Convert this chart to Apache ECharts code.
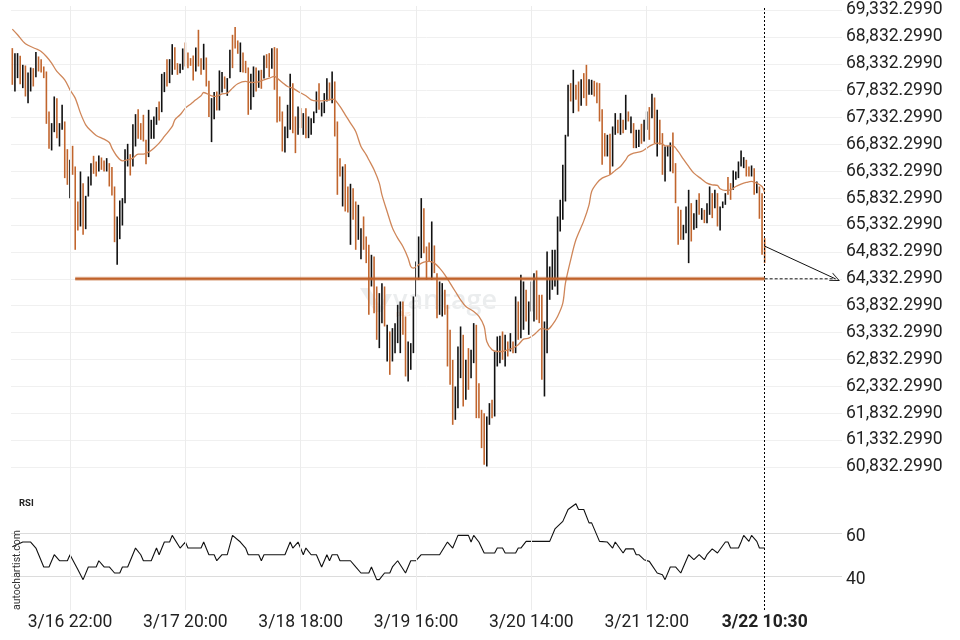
<!DOCTYPE html>
<html><head><meta charset="utf-8">
<script src="https://cdn.jsdelivr.net/npm/echarts@6/dist/echarts.min.js"></script>
<style>html,body{margin:0;padding:0;background:#fff}#c{width:960px;height:640px}</style>
</head><body><div id="c"></div>
<script>
// ---- data (30-minute bars, 3/16 11:00 .. 3/22 10:30) ----
const highs = [
68623,68530,68530,68480,68313,68300,68170,68263,68251,68549,
68468,68418,68282,68189,67445,67228,67724,67693,67228,67569,
67259,66744,66546,66806,66422,65771,66329,66112,65876,66236,
66484,66620,66515,66626,66589,66534,66577,66484,66410,66050,
65492,65789,65833,66744,66843,66651,67209,67395,67488,67228,
67383,66918,67476,67290,67352,67526,67631,68145,68177,68418,
68418,68697,68641,68344,68331,68617,68728,68542,68437,68486,
68635,68964,68437,68704,68449,68015,67693,67805,67817,68208,
68177,68096,68065,68592,68871,69014,68766,68728,68542,68387,
68263,68146,68282,68263,68208,68220,68487,68511,68530,68623,
68642,68623,67724,67445,67166,67569,68146,67972,67352,67538,
67507,67414,67507,67352,67321,67445,67817,67972,67612,67786,
68065,67984,68189,68003,67259,66577,66422,66465,66050,66100,
66019,65771,65709,65275,65492,65120,64965,64779,64748,64190,
64066,64252,64190,63477,63353,63415,63508,63849,63911,63911,
63632,63167,63136,64004,64655,65120,65833,65647,64934,65008,
65399,64953,64438,64283,64252,64128,63849,63384,62826,62330,
63074,63446,63291,62826,63043,63012,63508,63477,62392,61896,
61834,61772,62020,62082,62981,63260,63272,63353,63291,63167,
63322,63167,64004,63911,64407,64283,64128,63911,64283,64438,
64488,64035,64035,63539,64841,64562,64872,64872,65492,65802,
66453,67011,67941,67972,68220,67941,68003,68046,68158,68313,
68046,68034,68015,67984,67972,67488,67042,67011,67030,67166,
67414,67290,67414,67290,67755,67445,67352,67228,67104,67104,
67216,67290,67445,67526,67774,67705,67476,67290,67042,66794,
66806,66868,67054,66484,65678,65616,65337,65678,65988,65740,
65554,65802,65926,65647,65616,65740,66050,65926,65988,65926,
65678,65771,65926,66224,66112,66348,66329,66515,66720,66596,
66546,66422,66441,66391,66143,66050,65926,65089];
const lows = [
67941,67817,68065,67953,67879,67724,67600,67817,67910,68083,
68189,68170,68065,67215,66750,66720,67060,66949,66794,67104,
66205,66081,65833,66267,64872,65231,65306,65151,65256,65863,
66068,66285,66236,66329,66360,66329,66329,66050,65882,65014,
64593,65070,65324,65740,66422,66254,66422,66794,66936,66918,
66887,66465,66596,66936,66936,67197,67278,67432,67805,67910,
67972,68127,68220,68127,68158,68220,68282,68251,68294,68021,
68189,68282,68127,68220,67910,67340,66875,67302,67464,67464,
67798,67867,67736,68065,68251,68617,68518,68177,68170,68158,
67383,67476,67712,67817,67885,67867,68059,68251,68084,68239,
67848,67240,67259,66701,66682,66949,67104,67042,66670,67011,
67135,67011,66949,66949,67011,67228,67414,67476,67352,67414,
67631,67650,67600,66980,65895,66236,65678,65585,65566,64965,
65430,64872,65058,64698,64872,64624,63663,64190,63694,63198,
63043,63508,63446,62795,62547,62795,62950,63136,62950,63291,
62516,62423,62640,62950,64004,64314,64717,64810,64314,64655,
64314,64438,63601,63663,63632,63663,62702,62361,61617,61710,
61927,62485,61958,62082,62268,62485,62764,61741,61741,61183,
60873,60842,61617,61741,61772,62702,62764,62826,62702,62888,
62981,62950,62950,63198,63229,63384,63539,63291,63725,63539,
63570,63508,62454,62144,62950,63942,64128,64190,64035,65213,
65430,65771,66980,67631,67414,67662,67445,67550,67693,67550,
67755,67755,67724,67600,67259,66453,66608,66608,66267,66422,
67011,67042,67011,67042,67104,67259,67042,66763,66763,66782,
66844,66887,67104,66918,67321,66856,66608,66825,66267,66143,
66608,66329,66298,65740,64965,65058,65058,65182,64624,65027,
65244,65275,65523,65430,65368,65368,65523,65461,65647,65306,
65232,65647,65709,65895,65802,65988,66174,66205,66422,66391,
66236,66236,66236,65895,65926,65449,64779,64624];
// U = up bar (black), D = down bar (orange)
const barDir = ('DUUDUDUUDU'+'DDDDDUUDUU'+'DDUDDDUDUU'+'UDDUDDUDDD'+'UUUUUDUUDD'+
  'DDUUUUDUUD'+'UUDDUUDDDD'+'UDDUDDUUDU'+'UDUUDDDUDD'+'DUUDUDUDDU'+
  'DDDDUUUDDU'+'DUDUUUUDUU'+'UDUDDDUDDU'+'DDUUDDDUDD'+'UUDUDUUUUD'+
  'DUUUUUUDDD'+'UDDUUDDDDU'+'UUDUDUUDDD'+'DUUDUUUDUD'+'UDUDUUDUUU'+
  'DDDUUUUUUU'+'UUUDUDDUDD'+'UUDDDDDUDU'+'UDUDUDUDUU'+'DUUDUDUDDU'+
  'UUDDDDUUUD'+'UUDUDUUDUD'+'UUUDDUUUUU'+'DDUDUDDD').split('');
// moving average, [bar index, value]
const maPoints = [[0,68976],[2,68871],[5,68704],[9,68611],[11,68561],[13,68468],[15,68344],[17,68189],[20,68034],[22,67848],[24,67693],[26,67414],[28,67197],[30,67085],[32,66999],[35,66930],[37,66868],[38,66763],[40,66608],[42,66527],[44,66546],[46,66577],[48,66651],[50,66651],[52,66689],[54,66763],[56,66856],[58,66980],[61,67166],[62,67290],[64,67383],[66,67507],[68,67581],[70,67662],[72,67736],[73,67798],[76,67736],[78,67724],[80,67774],[82,67786],[84,67879],[86,67960],[89,68003],[91,67984],[94,67997],[96,68034],[98,68065],[100,68096],[101,68065],[103,67984],[105,67910],[107,67879],[109,67817],[112,67736],[114,67662],[116,67643],[118,67643],[120,67650],[122,67674],[123,67662],[125,67538],[127,67383],[129,67228],[131,67073],[133,66794],[135,66639],[136,66546],[138,66360],[140,66112],[141,65895],[143,65580],[145,65280],[147,65089],[149,64934],[151,64717],[152,64562],[153,64531],[155,64593],[157,64643],[159,64655],[161,64624],[163,64531],[165,64407],[167,64252],[169,64097],[171,63942],[173,63818],[176,63725],[178,63632],[180,63446],[181,63167],[183,63012],[185,62981],[187,62981],[189,63012],[191,63043],[193,63105],[195,63210],[197,63229],[199,63291],[201,63384],[202,63415],[204,63384],[206,63477],[208,63632],[210,63880],[211,64252],[213,64686],[215,65058],[218,65410],[220,65709],[221,65957],[223,66112],[225,66205],[228,66267],[230,66348],[232,66422],[234,66546],[235,66620],[237,66670],[240,66701],[242,66763],[244,66825],[246,66856],[248,66844],[249,66806],[252,66806],[254,66701],[256,66558],[258,66422],[260,66298],[263,66186],[265,66112],[267,66081],[269,66069],[270,66007],[272,65976],[274,65988],[276,66050],[278,66093],[280,66124],[282,66143],[284,66112],[286,66050],[287,65938]];
// RSI, [bar index, value]
const rsiPoints = [[0,53.6],[4,55.8],[7,55.8],[9,53.0],[12,44.2],[14,44.2],[16,49.9],[18,47.1],[21,47.1],[22,49.9],[25,43.0],[27,38.3],[29,44.2],[32,44.2],[33,47.1],[35,44.2],[37,44.2],[39,41.4],[41,41.4],[42,44.2],[44,44.2],[45,47.1],[47,53.0],[49,49.9],[50,47.1],[53,47.1],[55,53.0],[56,49.9],[58,55.8],[60,55.8],[61,58.9],[64,53.0],[66,55.8],[67,53.0],[72,53.0],[73,55.8],[75,49.9],[77,49.9],[78,47.1],[80,49.9],[82,49.9],[84,58.9],[87,55.8],[89,53.0],[90,49.9],[94,49.9],[95,47.1],[96,49.9],[104,49.9],[106,55.8],[107,53.0],[109,55.8],[111,49.9],[112,53.0],[114,49.9],[116,49.9],[118,44.2],[120,49.9],[121,47.1],[122,49.9],[124,49.9],[125,47.1],[129,47.1],[131,44.2],[133,41.4],[136,41.4],[137,44.2],[139,38.3],[140,38.3],[142,41.4],[144,41.4],[145,44.2],[147,47.1],[150,41.4],[152,47.1],[154,47.1],[156,49.9],[163,49.9],[166,55.8],[168,53.0],[170,58.9],[174,58.9],[175,55.8],[176,58.9],[178,55.8],[180,50.7],[184,50.7],[185,53.0],[187,53.0],[188,50.7],[192,50.7],[193,53.0],[194,53.0],[196,56.1],[205,56.1],[207,61.9],[210,65.4],[212,70.9],[215,73.6],[216,70.9],[218,70.9],[220,64.7],[221,64.7],[224,56.1],[227,55.8],[229,53.0],[230,55.8],[233,50.7],[234,52.6],[237,52.6],[238,49.9],[239,49.9],[241,47.6],[243,46.8],[246,41.4],[248,40.6],[249,38.3],[251,44.2],[253,44.2],[255,41.4],[258,49.9],[260,47.6],[262,49.9],[264,47.6],[265,49.9],[267,52.6],[269,50.7],[272,55.8],[273,55.8],[274,53.0],[277,53.0],[278,55.8],[279,58.9],[281,56.1],[282,58.9],[284,56.1],[285,53.0],[287,53.0]];
const tickIndex = [22,66,110,154,198,242,287];
const tickLabels = ['3/16 22:00','3/17 20:00','3/18 18:00','3/19 16:00','3/20 14:00','3/21 12:00','3/22 10:30'];
const priceMin = 60832.299, priceMax = 69332.299, priceStep = 500;
const rsiLabels = [40, 60];
const targetLevel = 64332.299;
const levelStart = 24, lastBar = 287, projEnd = 314;
const arrowStartValue = 64940;
const slotCount = 317;

// categories: 30-minute slots
const categories = [];
const t0 = Date.UTC(2024, 2, 16, 11, 0);
for (let k = 0; k < slotCount; k++) {
  const d = new Date(t0 + k * 1800000);
  const hh = String(d.getUTCHours()).padStart(2, '0');
  const mm = String(d.getUTCMinutes()).padStart(2, '0');
  categories.push((d.getUTCMonth() + 1) + '/' + d.getUTCDate() + ' ' + hh + ':' + mm);
}
const barData = highs.map((h, i) => [i, h, lows[i], barDir[i] === 'U' ? 1 : 0]);

const FONT = 'Roboto';
const ORANGE = '#c1652d';
const chevron = 'path://M0,10L5,0L10,10L9,10L5,2L1,10Z';
const fmtPrice = v => {
  const k = Math.round((v - priceMin) / priceStep);
  return (priceMin + k * priceStep).toLocaleString('en-US', {minimumFractionDigits: 4, maximumFractionDigits: 4});
};

const chart = echarts.init(document.getElementById('c'));
chart.setOption({
  animation: false,
  backgroundColor: '#fff',
  grid: [
    {left: 11, right: 118, top: 10, height: 457},
    {left: 11, right: 118, top: 490, height: 129},
    {left: 11, right: 118, top: 6, bottom: 30}
  ],
  xAxis: [
    {gridIndex: 0, type: 'category', data: categories, show: false, boundaryGap: true},
    {gridIndex: 1, type: 'category', data: categories, show: false, boundaryGap: true},
    {gridIndex: 2, type: 'category', data: categories, boundaryGap: true,
      axisLine: {show: false}, axisTick: {show: false}, splitLine: {show: false},
      axisLabel: {
        interval: (idx) => tickIndex.includes(idx),
        margin: 4, color: '#222', fontSize: 17.5, fontFamily: FONT,
        formatter: (v, idx) => {
          const k = tickIndex.indexOf(idx);
          const s = k >= 0 ? tickLabels[k] : v;
          return idx === lastBar ? '{b|' + s + '}' : s;
        },
        rich: {b: {fontWeight: 'bold', fontSize: 17.5, fontFamily: FONT, color: '#222'}}
      }}
  ],
  yAxis: [
    {gridIndex: 0, type: 'value', position: 'right', min: priceMin, max: priceMax, interval: priceStep,
      axisLine: {show: false}, axisTick: {show: false},
      splitLine: {lineStyle: {color: '#f0f0f0', width: 1}},
      axisLabel: {margin: 4, color: '#222', fontSize: 17.5, fontFamily: FONT, formatter: fmtPrice}},
    {gridIndex: 1, type: 'value', position: 'right', min: 20, max: 80, interval: 20,
      axisLine: {show: false}, axisTick: {show: false},
      splitLine: {showMinLine: false, showMaxLine: false, lineStyle: {color: '#dcdcdc', width: 1}},
      axisLabel: {margin: 4, color: '#222', fontSize: 17.5, fontFamily: FONT, verticalAlign: 'top', lineHeight: 8,
        formatter: v => rsiLabels.includes(v) ? String(v) : ''}},
    {gridIndex: 2, type: 'value', min: 0, max: 1, show: false}
  ],
  graphic: [
    {type: 'text', left: 19, top: 499, z: 10, style: {text: 'RSI', font: 'bold 9.5px Roboto', fill: '#222'}},
    {type: 'text', x: 17, y: 570, rotation: Math.PI / 2, z: 10,
      style: {text: 'autochartist.com', font: '10.5px Roboto', fill: '#333', align: 'center', verticalAlign: 'middle'}},
    {type: 'group', z: 0, children: [
      {type: 'polygon', shape: {points: [[360,288],[369,288],[380,306],[386,294],[392,294],[382,312],[375,312]]},
        style: {fill: 'rgba(210,214,217,0.45)'}},
      {type: 'text', x: 393, y: 301, style: {text: 'vantage', font: '600 27px "Open Sans"', fill: 'rgba(210,214,217,0.45)', verticalAlign: 'middle'}},
      {type: 'text', x: 396, y: 314, style: {text: 'plus', font: '8px Roboto', fill: 'rgba(235,170,130,0.4)', verticalAlign: 'middle'}}
    ]}
  ],
  series: [
    {type: 'line', xAxisIndex: 2, yAxisIndex: 2, data: [[0, 0]], symbol: 'none', lineStyle: {opacity: 0}, silent: true, z: 1,
      markLine: {silent: true, symbol: 'none', label: {show: false},
        lineStyle: {color: '#ececec', type: 'solid', width: 1},
        data: tickIndex.slice(0, 6).map(i => ({xAxis: i}))}},
    {type: 'custom', xAxisIndex: 0, yAxisIndex: 0, data: barData, z: 3,
      encode: {x: 0, y: [1, 2]},
      renderItem: (params, api) => {
        const i = api.value(0);
        const top = api.coord([i, api.value(1)]);
        const bot = api.coord([i, api.value(2)]);
        return {type: 'rect', shape: {x: top[0] - 0.8, y: top[1], width: 1.6, height: Math.max(1, bot[1] - top[1])},
          style: {fill: api.value(3) ? '#111' : ORANGE}};
      }},
    {type: 'line', xAxisIndex: 0, yAxisIndex: 0, data: maPoints, symbol: 'none', smooth: 0.3, z: 4,
      lineStyle: {color: '#cf8659', width: 1.3}},
    {type: 'line', xAxisIndex: 0, yAxisIndex: 0, data: [[levelStart, targetLevel], [lastBar, targetLevel]], symbol: 'none', z: 5,
      lineStyle: {color: 'rgba(196,104,48,0.45)', width: 4}},
    {type: 'line', xAxisIndex: 0, yAxisIndex: 0, data: [[levelStart, targetLevel], [lastBar, targetLevel]], symbol: 'none', z: 6,
      lineStyle: {color: '#c0622a', width: 2}},
    {type: 'line', xAxisIndex: 0, yAxisIndex: 0, data: [[lastBar, targetLevel], [projEnd, targetLevel]], symbol: 'none', z: 6,
      lineStyle: {color: '#111', width: 1, type: [3, 2]}},
    {type: 'line', xAxisIndex: 0, yAxisIndex: 0, data: [], symbol: 'none', z: 7,
      markLine: {silent: true, symbol: ['none', chevron], symbolSize: [9, 10], label: {show: false},
        lineStyle: {color: '#111', width: 1, type: 'solid'},
        data: [[{coord: [lastBar, arrowStartValue]}, {coord: [projEnd, targetLevel]}]]}},
    {type: 'line', xAxisIndex: 1, yAxisIndex: 1, data: rsiPoints, symbol: 'none', z: 4,
      lineStyle: {color: '#111', width: 1.1}},
    {type: 'line', xAxisIndex: 2, yAxisIndex: 2, data: [[0, 0]], symbol: 'none', lineStyle: {opacity: 0}, silent: true, z: 9,
      markLine: {silent: true, symbol: 'none', label: {show: false},
        lineStyle: {color: '#000', type: [2, 2], width: 1},
        data: [{xAxis: lastBar}]}}
  ]
});
</script></body></html>
